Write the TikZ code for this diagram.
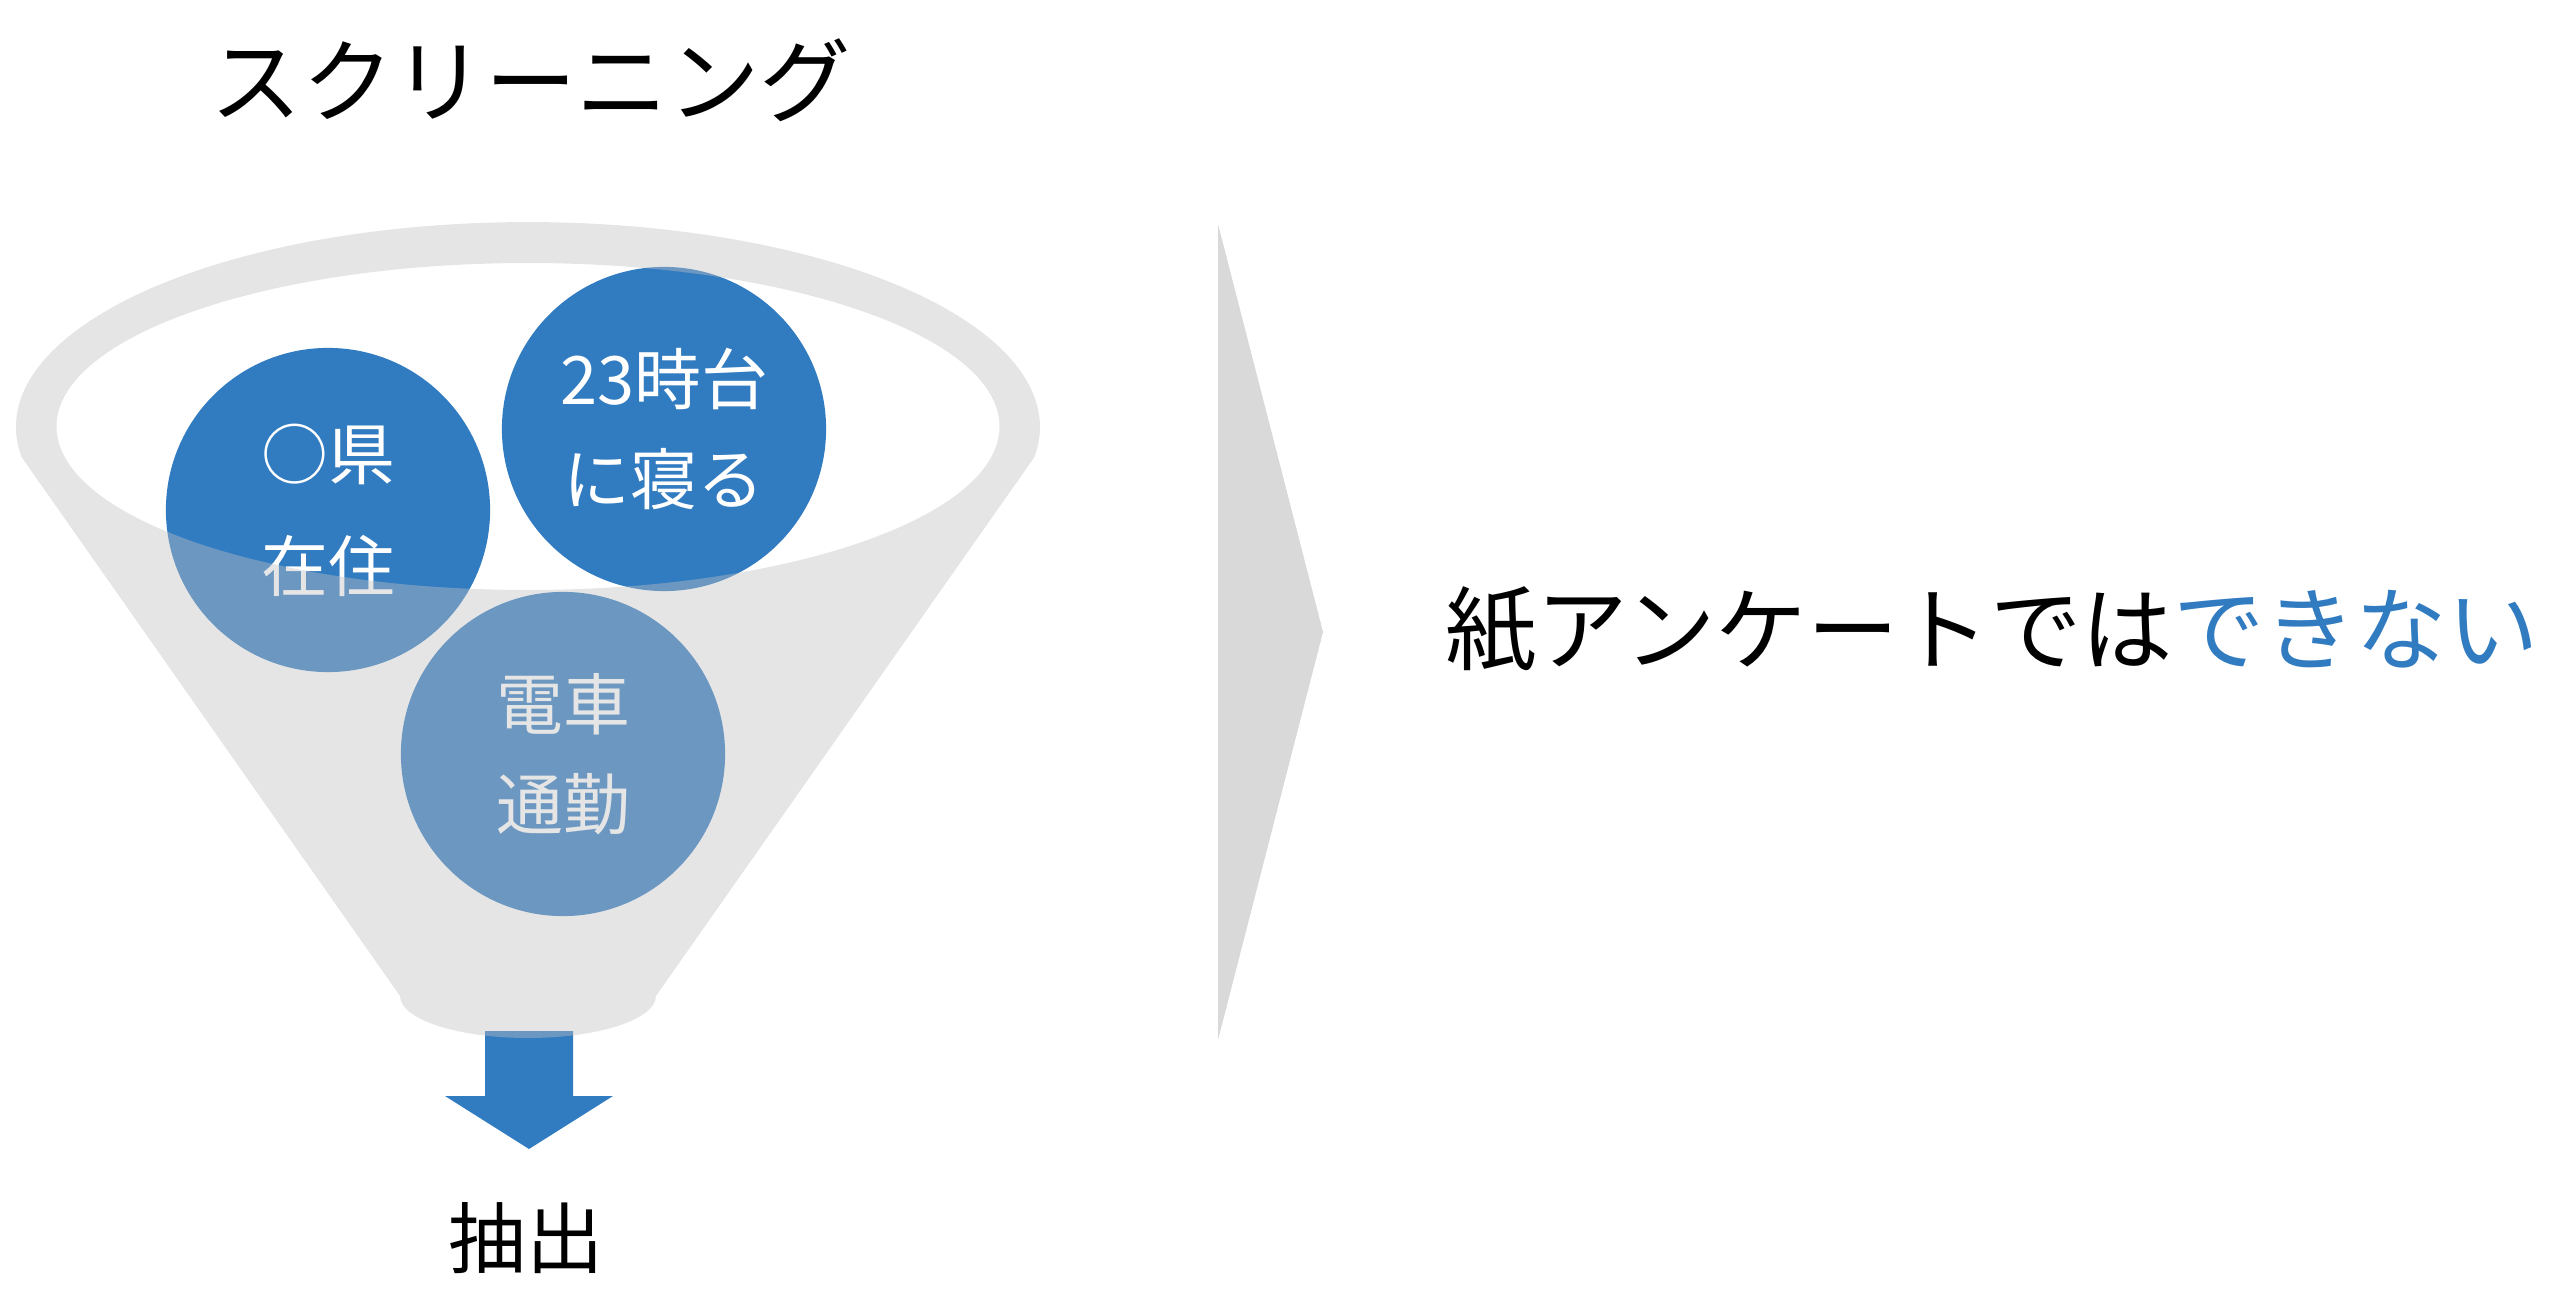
\documentclass[tikz,border=0pt]{standalone}
\usepackage{fontspec}
\setmainfont{Noto Sans CJK JP}
\usepackage{tikz}
\definecolor{accent}{HTML}{317BC1}
\definecolor{funnelgray}{HTML}{C0C0C0}
\definecolor{chevgray}{HTML}{D9D9D9}
\tikzset{%
    ball/.style={circle, fill=accent, minimum size=3.24cm, inner sep=0pt,
        text=white, align=center, font=\fontsize{19}{28.5}\selectfont},
    label/.style={font=\fontsize{26}{30}\selectfont}
}
\newcommand\FCircle[4]{%
    \node[ball] (#1) at (#2,#3) {#4}
}

\begin{document}
\begin{tikzpicture}[x=0.01cm, y=0.01cm]
      \useasboundingbox (0,0) rectangle (2560,-1294);

      \FCircle{pref}{328}{-510}{○県\\[3.4pt]在住};
      \FCircle{sleep}{664}{-429}{23時台\\に寝る};
      \FCircle{train}{563}{-754}{電車\\通勤};

      \coordinate (spout) at (529,-1031);
      \fill[accent] (spout) ++(-44,0) -- ++(88,0) -- ++(0,-65) -- ++(40,0)
          -- ++(-84,-53) -- ++(-84,53) -- ++(40,0) -- cycle;

      \fill[funnelgray, fill opacity=0.41, even odd rule]
          (21.5,-457) arc[start angle=188.4, end angle=-8.4, x radius=512, y radius=205]
          -- (656,-996) arc[start angle=0, end angle=-180, x radius=128, y radius=42]
          -- cycle
          (528,-426.5) ellipse[x radius=471.5, y radius=163.5];

      \fill[chevgray] (1218,-224) -- (1323,-632) -- (1218,-1040) -- cycle;

      \node[label] (title) at (531,-80) {スクリーニング};
      \node[label] (paper) at (1992,-630) {紙アンケートでは\textcolor{accent}{できない}};
      \node[font=\fontsize{22}{26}\selectfont] (extract) at (526,-1238) {抽出};
    \end{tikzpicture}
\end{document}
